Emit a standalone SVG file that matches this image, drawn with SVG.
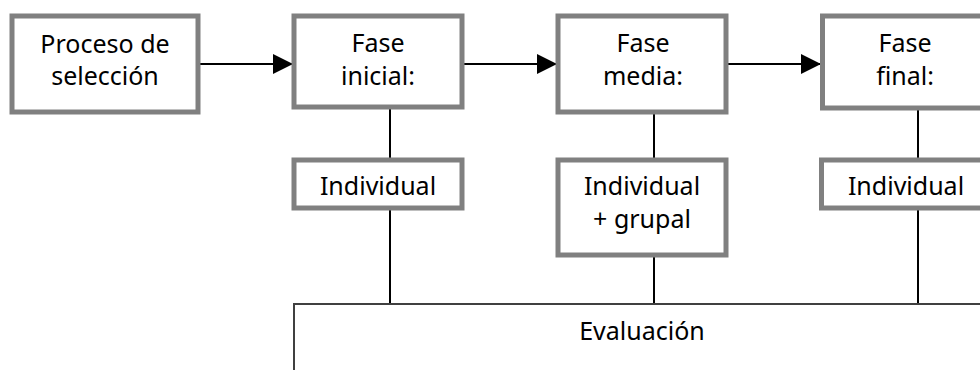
<svg xmlns="http://www.w3.org/2000/svg" width="980" height="370" viewBox="0 0 980 370">
  <defs>
    <marker id="arrow" viewBox="0 0 20 20" refX="20" refY="10" markerWidth="20" markerHeight="20" markerUnits="userSpaceOnUse" orient="auto">
      <path d="M0,0 L20,10 L0,20 Z" fill="#000"/>
    </marker>
    <style>
      .box { fill: #fff; stroke: #808080; stroke-width: 5; }
      .lbl { font-family: "Noto Sans", "DejaVu Sans", sans-serif; font-size: 25px; fill: #000; text-anchor: middle; }
      .flow { stroke: #000; stroke-width: 2; fill: none; }
      .link { stroke: #000; stroke-width: 2; fill: none; }
      .frame { stroke: #404040; stroke-width: 2; fill: none; }
    </style>
  </defs>
  <rect width="980" height="370" fill="#fff"/>

  <!-- connectors -->
  <g id="connectors">
    <line class="flow" x1="200" y1="64" x2="293" y2="64" marker-end="url(#arrow)"/>
    <line class="flow" x1="464" y1="64" x2="557" y2="64" marker-end="url(#arrow)"/>
    <line class="flow" x1="728" y1="64" x2="821" y2="64" marker-end="url(#arrow)"/>
    <line class="link" x1="390" y1="109" x2="390" y2="158"/>
    <line class="link" x1="390" y1="210" x2="390" y2="304"/>
    <line class="link" x1="654" y1="114" x2="654" y2="158"/>
    <line class="link" x1="654" y1="257" x2="654" y2="304"/>
    <line class="link" x1="918" y1="110" x2="918" y2="158"/>
    <line class="link" x1="918" y1="210" x2="918" y2="304"/>
  </g>

  <!-- evaluation frame -->
  <g id="evaluacion">
    <path class="frame" d="M294,372 L294,304 L982,304"/>
    <text class="lbl" x="642" y="340">Evaluación</text>
  </g>

  <g id="proceso">
    <rect class="box" x="12" y="16" width="186" height="96"/>
    <text class="lbl" x="105" y="53">Proceso de</text>
    <text class="lbl" x="105" y="85">selección</text>
  </g>

  <g id="fase-inicial">
    <rect class="box" x="294" y="16" width="168" height="91"/>
    <text class="lbl" x="378" y="52">Fase</text>
    <text class="lbl" x="378" y="85">inicial:</text>
  </g>

  <g id="fase-media">
    <rect class="box" x="558" y="16" width="168" height="96"/>
    <text class="lbl" x="643" y="52">Fase</text>
    <text class="lbl" x="643" y="85">media:</text>
  </g>

  <g id="fase-final">
    <rect class="box" x="822.5" y="16" width="170" height="92"/>
    <text class="lbl" x="905" y="52">Fase</text>
    <text class="lbl" x="905" y="85">final:</text>
  </g>

  <g id="individual-inicial">
    <rect class="box" x="294" y="160" width="168" height="48"/>
    <text class="lbl" x="378" y="195">Individual</text>
  </g>

  <g id="individual-grupal">
    <rect class="box" x="558" y="160" width="168" height="95"/>
    <text class="lbl" x="642" y="195">Individual</text>
    <text class="lbl" x="642" y="228">+ grupal</text>
  </g>

  <g id="individual-final">
    <rect class="box" x="821.5" y="160" width="170" height="48"/>
    <text class="lbl" x="906" y="195">Individual</text>
  </g>
</svg>
